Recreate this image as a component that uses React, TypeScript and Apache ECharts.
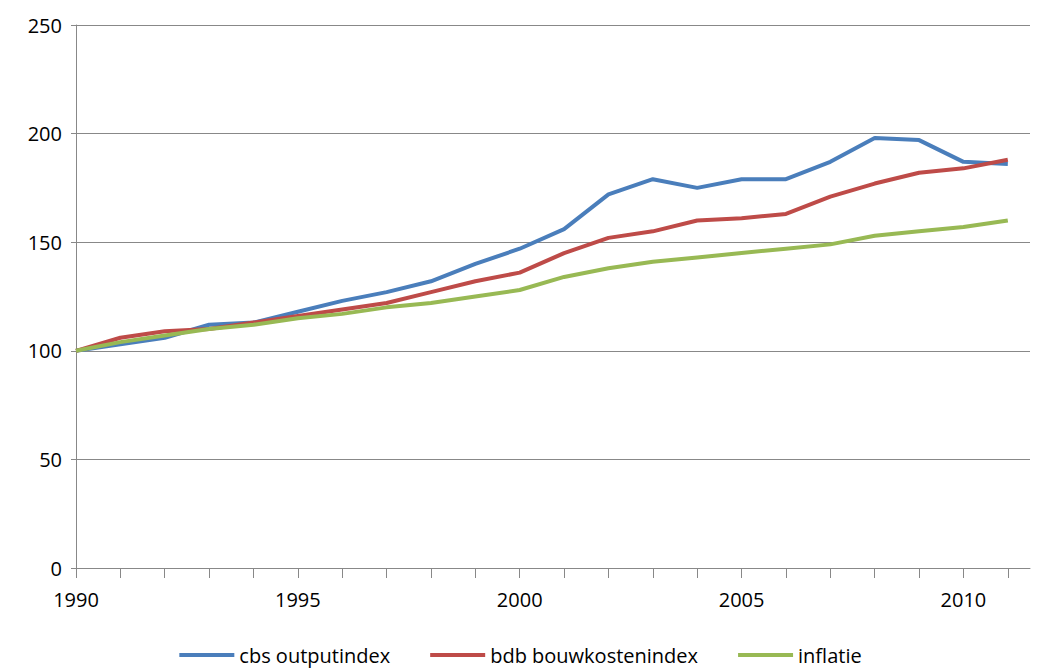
import { useEffect, useRef } from 'react'
import * as echarts from 'echarts'

const years = [1990, 1991, 1992, 1993, 1994, 1995, 1996, 1997, 1998, 1999, 2000, 2001, 2002, 2003, 2004, 2005, 2006, 2007, 2008, 2009, 2010, 2011]
const cbs = [100, 103, 106, 112, 113, 118, 123, 127, 132, 140, 147, 156, 172, 179, 175, 179, 179, 187, 198, 197, 187, 186]
const bdb = [100, 106, 109, 110, 113, 116, 119, 122, 127, 132, 136, 145, 152, 155, 160, 161, 163, 171, 177, 182, 184, 188]
const inflatie = [100, 104, 107, 110, 112, 115, 117, 120, 122, 125, 128, 134, 138, 141, 143, 145, 147, 149, 153, 155, 157, 160]

const font = 'Open Sans'

export default function App() {
  const ref = useRef<HTMLDivElement>(null)

  useEffect(() => {
    document.body.style.margin = '0'
    if (!ref.current) return
    const chart = echarts.init(ref.current, undefined, { renderer: 'svg' })
    const mk = (name: string, vals: number[], color: string) => ({
      name,
      type: 'line',
      data: years.map((y, i) => [y, vals[i]]),
      symbol: 'none',
      lineStyle: { color, width: 4 },
      itemStyle: { color },
    })
    chart.setOption({
      animation: false,
      grid: { left: 76, right: 11, top: 25, bottom: 103 },
      legend: {
        bottom: 1,
        itemWidth: 55,
        itemHeight: 4,
        itemGap: 40,
        icon: 'rect',
        textStyle: { fontFamily: font, fontSize: 20, color: '#000' },
      },
      xAxis: {
        type: 'value',
        min: 1990,
        max: 2011.5,
        interval: 1,
        axisLine: { lineStyle: { color: '#888' } },
        axisTick: { show: true, length: 10, lineStyle: { color: '#888' } },
        axisLabel: {
          fontFamily: font,
          fontSize: 20,
          color: '#000',
          margin: 21,
          showMaxLabel: false,
          formatter: (v: number) => (v % 5 === 0 ? String(v) : ''),
        },
        splitLine: { show: false },
      },
      yAxis: {
        type: 'value',
        min: 0,
        max: 250,
        interval: 50,
        axisLine: { show: true, lineStyle: { color: '#888' } },
        axisLabel: { fontFamily: font, fontSize: 20, color: '#000', margin: 14 },
        splitLine: { lineStyle: { color: '#888' } },
      },
      series: [
        mk('cbs outputindex', cbs, '#4a7ebb'),
        mk('bdb bouwkostenindex', bdb, '#be4b48'),
        mk('inflatie', inflatie, '#98b954'),
      ],
    })
    return () => chart.dispose()
  }, [])

  return <div ref={ref} style={{ width: 1041, height: 671 }} />
}
